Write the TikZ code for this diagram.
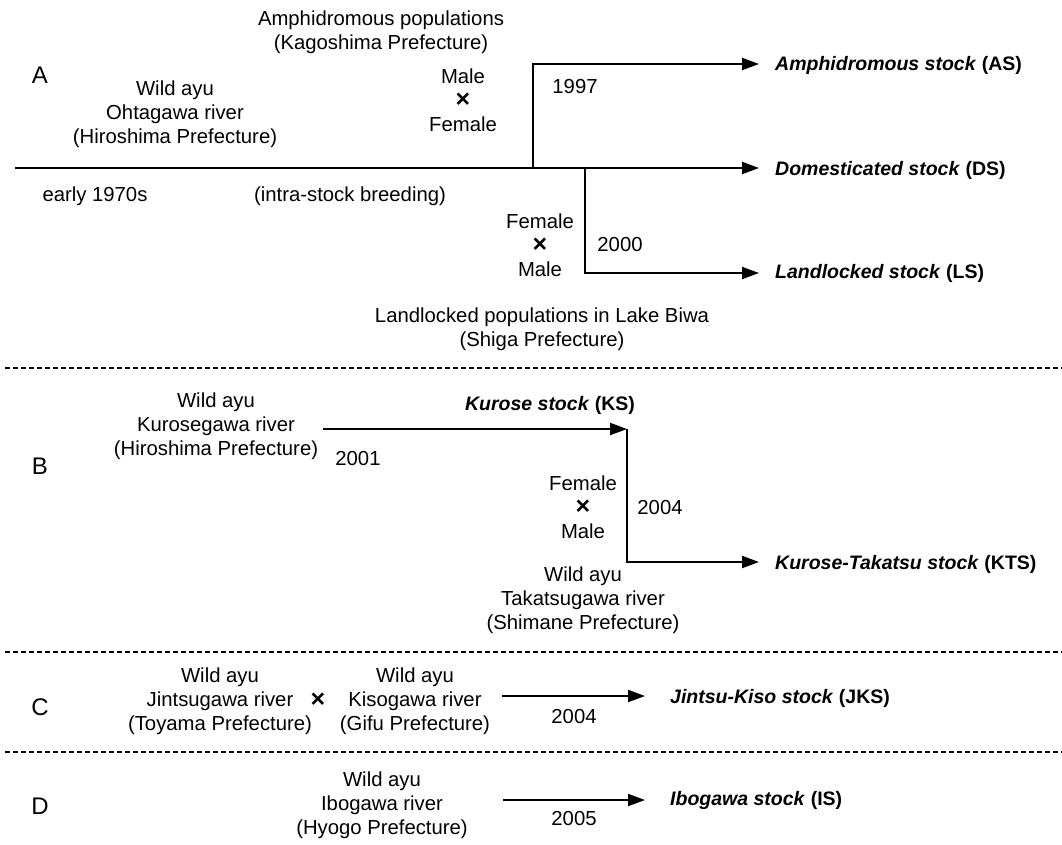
\documentclass[tikz,border=0pt]{standalone}
\usepackage{fontspec}
\setmainfont{Liberation Sans}
\usetikzlibrary{arrows.meta}
\begin{document}
\begin{tikzpicture}[x=1pt,y=-1pt,
  txt/.style={align=center,inner sep=0pt,font=\fontsize{20.3pt}{24pt}\selectfont},
  lbl/.style={inner sep=0pt,font=\fontsize{24pt}{26pt}\selectfont},
  stock/.style={anchor=west,inner sep=0pt,font=\fontsize{19.5pt}{24pt}\selectfont\bfseries},
  arr/.style={line width=2pt,-{Triangle[length=17pt,width=12pt]}},
  sep/.style={line width=1.2pt,dash pattern=on 5pt off 3pt}]
\useasboundingbox (0,0) rectangle (1062,844);
\newcommand{\tms}{{\fontsize{25pt}{24pt}\selectfont\bfseries ×}}
% ---------- A ----------
\node[lbl] (labA) at (40,75) {A};
\node[txt] (amph) at (381,32) {Amphidromous populations\\(Kagoshima Prefecture)};
\node[txt] (mxf) at (463,100) {Male\\\tms\\Female};
\node[txt] (ohta) at (175,114) {Wild ayu\\Ohtagawa river\\(Hiroshima Prefecture)};
\node[txt] (early) at (95,196) {early 1970s};
\node[txt] (intra) at (350,196) {(intra-stock breeding)};
\node[txt] (y1997) at (575,87) {1997};
\node[txt] (fxm) at (540,245) {Female\\\tms\\Male};
\node[txt] (y2000) at (620,245) {2000};
\node[txt] (biwa) at (542,329) {Landlocked populations in Lake  Biwa\\(Shiga Prefecture)};
\node[stock] (AS) at (775,65) {\textit{Amphidromous stock} (AS)};
\node[stock] (DS) at (775,170) {\textit{Domesticated stock} (DS)};
\node[stock] (LS) at (775,273) {\textit{Landlocked stock} (LS)};
\coordinate (startA) at (15,168);
\coordinate (j1997) at (533,168);
\coordinate (j2000) at (585,168);
\coordinate (eAS) at (759,64);
\coordinate (eDS) at (759,168);
\coordinate (eLS) at (759,273);
\draw[arr] (startA) -- (eDS);
\draw[arr] (j1997) |- (eAS);
\draw[arr] (j2000) |- (eLS);
\coordinate (sepL1) at (5,368); \coordinate (sepR1) at (1062,368);
\draw[sep] (sepL1) -- (sepR1);
% ---------- B ----------
\node[lbl] (labB) at (40,466) {B};
\node[txt] (kuro) at (216,426) {Wild ayu\\Kurosegawa river\\(Hiroshima Prefecture)};
\node[stock,anchor=center] (KS) at (550,405) {\textit{Kurose stock} (KS)};
\node[txt] (y2001) at (358,459) {2001};
\node[txt] (fxm2) at (583,507) {Female\\\tms\\Male};
\node[txt] (y2004b) at (660,508) {2004};
\node[txt] (taka) at (583,600) {Wild ayu\\Takatsugawa river\\(Shimane Prefecture)};
\node[stock] (KTS) at (775,564) {\textit{Kurose-Takatsu stock} (KTS)};
\coordinate (sKS) at (323,429);
\coordinate (jKS) at (627,429);
\coordinate (eKTS) at (759,562);
\draw[arr] (sKS) -- (jKS);
\draw[arr] (jKS) |- (eKTS);
\coordinate (sepL2) at (5,652); \coordinate (sepR2) at (1062,652);
\draw[sep] (sepL2) -- (sepR2);
% ---------- C ----------
\node[lbl] (labC) at (40,707) {C};
\node[txt] (jint) at (220,701) {Wild ayu\\Jintsugawa river\\(Toyama Prefecture)};
\node[txt] (xC) at (318,700) {\tms};
\node[txt] (kiso) at (415,701) {Wild ayu\\Kisogawa river\\(Gifu Prefecture)};
\node[txt] (y2004c) at (574,716) {2004};
\node[stock] (JKS) at (670,698) {\textit{Jintsu-Kiso stock} (JKS)};
\coordinate (sC) at (502,696); \coordinate (eC) at (645,696);
\draw[arr] (sC) -- (eC);
\coordinate (sepL3) at (5,752); \coordinate (sepR3) at (1062,752);
\draw[sep] (sepL3) -- (sepR3);
% ---------- D ----------
\node[lbl] (labD) at (40,806) {D};
\node[txt] (ibo) at (382,805) {Wild ayu\\Ibogawa river\\(Hyogo Prefecture)};
\node[txt] (y2005) at (574,818) {2005};
\node[stock] (IS) at (670,800) {\textit{Ibogawa stock} (IS)};
\coordinate (sD) at (503,800); \coordinate (eD) at (645,800);
\draw[arr] (sD) -- (eD);
\end{tikzpicture}
\end{document}
